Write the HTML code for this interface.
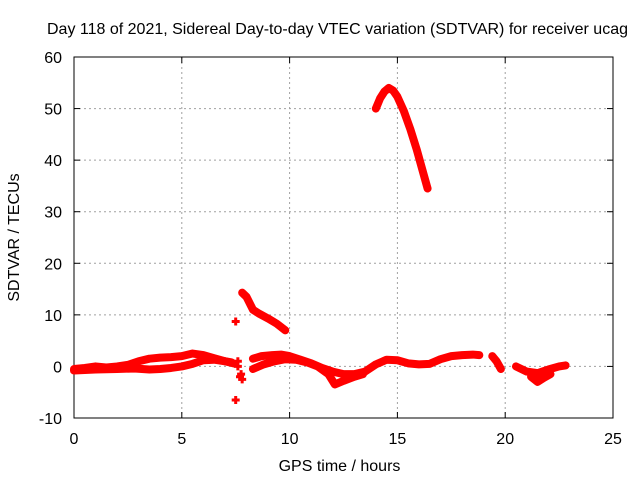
<!DOCTYPE html>
<html><head><meta charset="utf-8">
<style>
body{margin:0;background:#fff;overflow:hidden}
svg{display:block;font-family:"Liberation Sans",sans-serif}
</style></head>
<body>
<svg id="chart" width="640" height="480" viewBox="0 0 640 480"></svg>
<script>
const xTicks=[0,5,10,15,20,25];
const yTicks=[-10,0,10,20,30,40,50,60];
const seriesA_t=[0,0.5,1,1.5,2,2.5,3,3.5,4,4.5,5,5.5,6,6.5,7,7.4];
const seriesA_v=[-0.5,-0.3,0,-0.2,0,0.3,1,1.5,1.7,1.8,2,2.5,2.2,1.6,1,0.6];
const seriesB_t=[0,1,2,2.8,3.5,4,4.5,5,5.5,6,6.5,7,7.3];
const seriesB_v=[-0.8,-0.6,-0.5,-0.4,-0.6,-0.5,-0.3,0,0.5,1.2,1.3,1,0.8];
const seriesC_t=[7.8,8.0,8.3,8.6,9.0,9.4,9.8];
const seriesC_v=[14.3,13.5,11,10.2,9.3,8.3,7];
const seriesD_t=[8.3,8.7,9.2,9.6,10,10.5,11,11.5,12,12.5,13,13.5,14,14.5,15,15.5,16,16.5,17,17.5,18,18.5,18.8];
const seriesD_v=[1.5,2,2.2,2.3,2,1.3,0.6,-0.3,-1,-1.5,-1.5,-1,0.4,1.3,1.2,0.6,0.4,0.5,1.4,2,2.2,2.3,2.2];
const seriesE_t=[8.3,8.8,9.3,9.8,10.3,10.8,11.3,11.8,12.1,12.5,13,13.4];
const seriesE_v=[-0.5,0.4,1,1.4,1.3,0.8,0,-1.5,-3.5,-2.8,-2,-1.5];
const seriesF_t=[14.0,14.2,14.4,14.6,14.8,15.0,15.3,15.6,15.9,16.2,16.4];
const seriesF_v=[50,52,53.3,54,53.5,52.3,49.5,46,42,37.5,34.5];
const seriesG_t=[19.4,19.6,19.8];
const seriesG_v=[2,1,-0.5];
const seriesH_t=[20.5,21,21.5,22,22.5,22.8];
const seriesH_v=[0,-1,-1.3,-0.6,0,0.2];
const seriesI_t=[21.2,21.5,21.8,22.1];
const seriesI_v=[-2,-3,-2.2,-1.5];
const outlier_t=[7.5,7.5,7.6,7.7,7.8,7.75,7.6];
const outlier_v=[8.7,-6.5,1,-2,-2.5,-1.5,0];
const allSeries=[[seriesA_t,seriesA_v],[seriesB_t,seriesB_v],[seriesC_t,seriesC_v],[seriesD_t,seriesD_v],[seriesE_t,seriesE_v],[seriesF_t,seriesF_v],[seriesG_t,seriesG_v],[seriesH_t,seriesH_v],[seriesI_t,seriesI_v]];

const L=74,R=613,T=57,B=418,xmin=0,xmax=25,ymin=-10,ymax=60;
const X=v=>L+(v-xmin)/(xmax-xmin)*(R-L);
const Y=v=>B-(v-ymin)/(ymax-ymin)*(B-T);
const NS='http://www.w3.org/2000/svg';
const svg=document.getElementById('chart');
function mk(tag,attrs,parent){const e=document.createElementNS(NS,tag);for(const k in attrs)e.setAttribute(k,attrs[k]);(parent||svg).appendChild(e);return e;}

const title=mk('text',{x:47,y:34,'font-size':16,fill:'#000'});
title.textContent='Day 118 of 2021, Sidereal Day-to-day VTEC variation (SDTVAR) for receiver ucag';



const grid=mk('g',{stroke:'#a0a0a0','stroke-width':1,'stroke-dasharray':'2,3'});


xTicks.forEach(t=>{if(t>xmin&&t<xmax)mk('line',{x1:X(t),x2:X(t),y1:T,y2:B},grid);});
yTicks.forEach(t=>{if(t>ymin&&t<ymax)mk('line',{x1:L,x2:R,y1:Y(t),y2:Y(t)},grid);});

const ticks=mk('g',{stroke:'#000','stroke-width':1});
xTicks.forEach(t=>{mk('line',{x1:X(t),x2:X(t),y1:B,y2:B-6},ticks);mk('line',{x1:X(t),x2:X(t),y1:T,y2:T+6},ticks);
  const tx=mk('text',{x:X(t),y:B+26,'font-size':16,'text-anchor':'middle',fill:'#000',stroke:'none'});tx.textContent=t;
  
  });
yTicks.forEach(t=>{mk('line',{x1:L,x2:L+6,y1:Y(t),y2:Y(t)},ticks);mk('line',{x1:R,x2:R-6,y1:Y(t),y2:Y(t)},ticks);
  const tx=mk('text',{x:L-12,y:Y(t)+6,'font-size':16,'text-anchor':'end',fill:'#000',stroke:'none'});tx.textContent=t;
  
  });

const frame=mk('rect',{x:L,y:T,width:R-L,height:B-T,fill:'none',stroke:'#000','stroke-width':1});



const xl=mk('text',{x:(L+R)/2-4,y:471,'font-size':16,'text-anchor':'middle',fill:'#000'});xl.textContent='GPS time / hours';


const yl=mk('text',{x:19,y:(T+B)/2,'font-size':16,'text-anchor':'middle',fill:'#000',transform:'rotate(-90 19 '+((T+B)/2)+')'});yl.textContent='SDTVAR / TECUs';



const data=mk('g',{});


allSeries.forEach(([ts,vs])=>{
  const pts=ts.map((t,i)=>X(t)+','+Y(vs[i])).join(' ');
  const pl=mk('polyline',{points:pts,fill:'none',stroke:'#ff0000','stroke-width':8,'stroke-linejoin':'round','stroke-linecap':'round'},data);
  
  
});
outlier_t.forEach((t,i)=>{
  const x=X(t),y=Y(outlier_v[i]);
  const p=mk('path',{d:`M${x-4},${y}H${x+4}M${x},${y-4}V${y+4}`,stroke:'#ff0000','stroke-width':3},data);
  
  
});
</script>
</body></html>
